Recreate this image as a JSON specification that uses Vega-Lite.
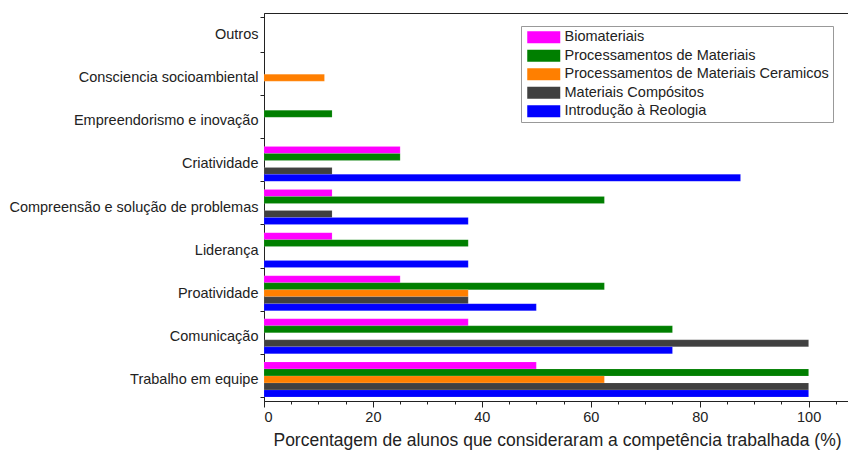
{
  "$schema": "https://vega.github.io/schema/vega-lite/v6.json",
  "autosize": {"type": "none"},
  "width": 586,
  "height": 388,
  "padding": {"left": 264, "top": 13, "right": 0, "bottom": 54},
  "background": "white",
  "config": {
    "view": {"stroke": "#222", "strokeWidth": 1},
    "font": "Liberation Sans"
  },
  "data": {
    "values": [
      {"competencia": "Trabalho em equipe", "disciplina": "Biomateriais", "pct": 50},
      {"competencia": "Trabalho em equipe", "disciplina": "Processamentos de Materiais", "pct": 100},
      {"competencia": "Trabalho em equipe", "disciplina": "Processamentos de Materiais Ceramicos", "pct": 62.5},
      {"competencia": "Trabalho em equipe", "disciplina": "Materiais Compósitos", "pct": 100},
      {"competencia": "Trabalho em equipe", "disciplina": "Introdução à Reologia", "pct": 100},
      {"competencia": "Comunicação", "disciplina": "Biomateriais", "pct": 37.5},
      {"competencia": "Comunicação", "disciplina": "Processamentos de Materiais", "pct": 75},
      {"competencia": "Comunicação", "disciplina": "Materiais Compósitos", "pct": 100},
      {"competencia": "Comunicação", "disciplina": "Introdução à Reologia", "pct": 75},
      {"competencia": "Proatividade", "disciplina": "Biomateriais", "pct": 25},
      {"competencia": "Proatividade", "disciplina": "Processamentos de Materiais", "pct": 62.5},
      {"competencia": "Proatividade", "disciplina": "Processamentos de Materiais Ceramicos", "pct": 37.5},
      {"competencia": "Proatividade", "disciplina": "Materiais Compósitos", "pct": 37.5},
      {"competencia": "Proatividade", "disciplina": "Introdução à Reologia", "pct": 50},
      {"competencia": "Liderança", "disciplina": "Biomateriais", "pct": 12.5},
      {"competencia": "Liderança", "disciplina": "Processamentos de Materiais", "pct": 37.5},
      {"competencia": "Liderança", "disciplina": "Introdução à Reologia", "pct": 37.5},
      {"competencia": "Compreensão e solução de problemas", "disciplina": "Biomateriais", "pct": 12.5},
      {"competencia": "Compreensão e solução de problemas", "disciplina": "Processamentos de Materiais", "pct": 62.5},
      {"competencia": "Compreensão e solução de problemas", "disciplina": "Materiais Compósitos", "pct": 12.5},
      {"competencia": "Compreensão e solução de problemas", "disciplina": "Introdução à Reologia", "pct": 37.5},
      {"competencia": "Criatividade", "disciplina": "Biomateriais", "pct": 25},
      {"competencia": "Criatividade", "disciplina": "Processamentos de Materiais", "pct": 25},
      {"competencia": "Criatividade", "disciplina": "Materiais Compósitos", "pct": 12.5},
      {"competencia": "Criatividade", "disciplina": "Introdução à Reologia", "pct": 87.5},
      {"competencia": "Empreendorismo e inovação", "disciplina": "Processamentos de Materiais", "pct": 12.5},
      {"competencia": "Consciencia socioambiental", "disciplina": "Processamentos de Materiais Ceramicos", "pct": 11.1}
    ]
  },
  "mark": {"type": "bar", "stroke": "#ffffff", "strokeWidth": 0.3, "strokeOpacity": 0.4},
  "encoding": {
    "y": {
      "field": "competencia",
      "type": "nominal",
      "scale": {
        "domain": ["Outros", "Consciencia socioambiental", "Empreendorismo e inovação", "Criatividade", "Compreensão e solução de problemas", "Liderança", "Proatividade", "Comunicação", "Trabalho em equipe"],
        "paddingInner": 0.19,
        "paddingOuter": 0.095
      },
      "axis": {
        "title": null,
        "tickBand": "extent",
        "tickSize": 4,
        "tickColor": "#222",
        "domainColor": "#222",
        "labelPadding": 2,
        "labelFontSize": 14.5,
        "labelColor": "#222",
        "labelLimit": 400
      }
    },
    "yOffset": {
      "field": "disciplina",
      "type": "nominal",
      "scale": {
        "domain": ["Biomateriais", "Processamentos de Materiais", "Processamentos de Materiais Ceramicos", "Materiais Compósitos", "Introdução à Reologia"],
        "paddingInner": 0,
        "paddingOuter": 0
      }
    },
    "x": {
      "field": "pct",
      "type": "quantitative",
      "scale": {"domain": [0, 107.6], "nice": false, "zero": true},
      "axis": {
        "title": "Porcentagem de alunos que consideraram a competência trabalhada (%)",
        "titleFontSize": 17.5,
        "titleFontWeight": "normal",
        "titleColor": "#222",
        "titlePadding": 8,
        "values": [0, 5, 10, 15, 20, 25, 30, 35, 40, 45, 50, 55, 60, 65, 70, 75, 80, 85, 90, 95, 100, 105],
        "labelExpr": "datum.value % 20 === 0 ? datum.label : ''",
        "tickSize": {"condition": {"test": "datum.value % 20 === 0", "value": 6}, "value": 3},
        "tickColor": "#222",
        "domainColor": "#222",
        "labelFontSize": 14.5,
        "labelColor": "#222",
        "labelPadding": 3,
        "grid": false
      }
    },
    "color": {
      "field": "disciplina",
      "type": "nominal",
      "scale": {
        "domain": ["Biomateriais", "Processamentos de Materiais", "Processamentos de Materiais Ceramicos", "Materiais Compósitos", "Introdução à Reologia"],
        "range": ["#ff00ff", "#007f00", "#ff7f00", "#404040", "#0000ff"]
      },
      "legend": {
        "title": null,
        "orient": "none",
        "legendX": 257,
        "legendY": 13,
        "padding": 4,
        "strokeColor": "#999",
        "fillColor": "white",
        "symbolType": "M-1,-1H4.5V1H-1Z",
        "symbolSize": 144,
        "symbolStrokeWidth": 0,
        "symbolOpacity": 1,
        "symbolOffset": 1,
        "labelOffset": 24,
        "labelFontSize": 14.5,
        "labelColor": "#222",
        "labelLimit": 400,
        "labelExpr": "datum.label + '\u00a0\u00a0\u00a0\u00a0'",
        "rowPadding": 3.5
      }
    }
  }
}
